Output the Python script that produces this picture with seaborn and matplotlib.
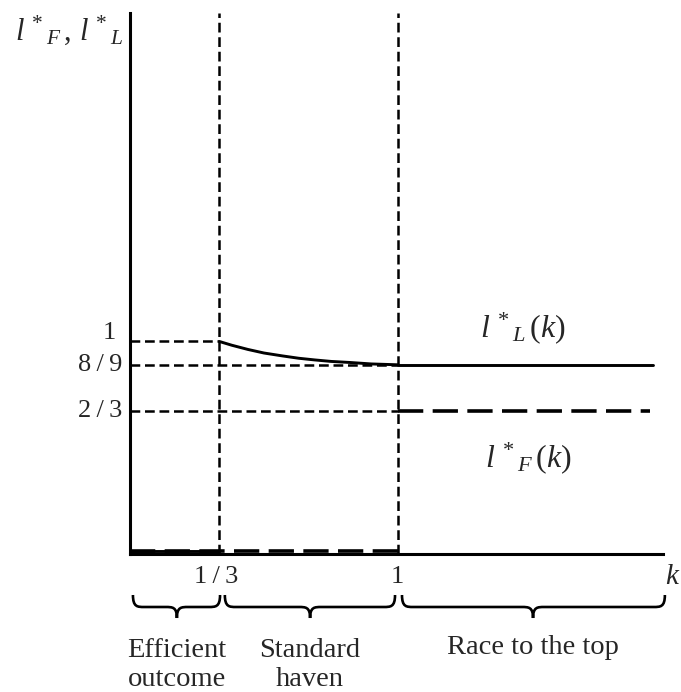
import numpy as np
import pandas as pd
import matplotlib
matplotlib.use("Agg")
import matplotlib.pyplot as plt
import matplotlib.transforms as mtransforms
from matplotlib.path import Path
from matplotlib.patches import PathPatch
import seaborn as sns

# ---- data -------------------------------------------------------------
# regime thresholds on k
k_low = 1 / 3
k_high = 1.0
k_end_L = 1.95
k_end_F = 1.94

# leader's level l*_L(k) in the standard-haven range (1/3 <= k <= 1)
k_haven = [1 / 3, 0.38, 0.44, 0.50, 0.57, 0.63, 0.69, 0.75, 0.82, 0.90, 1.0]
lL_haven = [1.0, 0.982, 0.962, 0.945, 0.931, 0.920, 0.912, 0.905, 0.900, 0.893, 8 / 9]

# levels in the race-to-the-top range (k > 1)
lL_race = 8 / 9
lF_race = 2 / 3

y_ticks = [1, 8 / 9, 2 / 3]
y_tick_labels = ["1", "8\u2009/\u20099", "2\u2009/\u20093"]
x_ticks = [1 / 3, 1]
x_tick_labels = ["1\u2009/\u20093", "1"]

regions = ["Efficient\noutcome", "Standard\nhaven", "Race to the top"]
region_spans = [(0.011, 0.336), (0.354, 0.989), (1.015, 1.996)]
region_tips = [0.175, 0.672, 1.504]

# ---- style ------------------------------------------------------------
sns.set_style("white")
plt.rcParams["font.family"] = ["Liberation Serif", "DejaVu Serif"]
plt.rcParams["mathtext.fontset"] = "custom"
plt.rcParams["mathtext.rm"] = "Liberation Serif"
plt.rcParams["mathtext.it"] = "Liberation Serif:italic"

FS = 19      # tick labels
RFS = 20.5   # regime labels
MFS = 23     # math labels

fig = plt.figure(figsize=(6.81, 6.92), dpi=100)
ax = fig.add_axes([130 / 681, 1 - 554 / 692, 533 / 681, 541 / 692])

ymin, ymax = -0.012, 2.564
ax.set_xlim(0, 1.989)
ax.set_ylim(ymin, ymax)

ref_kw = dict(color="black", lw=1.8, ls=(0, (3.9, 1.9)), zorder=2)
F_kw = dict(color="black", lw=2.6, ls=(0, (7.0, 2.6)), zorder=3)
L_kw = dict(color="black", lw=2.1, zorder=3)

# reference guides
sns.lineplot(x=[0, k_low], y=[1, 1], ax=ax, **ref_kw)
sns.lineplot(x=[0, k_high], y=[8 / 9, 8 / 9], ax=ax, **ref_kw)
sns.lineplot(x=[0, k_high], y=[2 / 3, 2 / 3], ax=ax, **ref_kw)
for kv in (k_low, k_high):
    ax.plot([kv, kv], [ymin, ymax], **ref_kw)

# l*_L(k)
sns.lineplot(x=[0, k_low], y=[0, 0], ax=ax, **L_kw)
sns.lineplot(x=k_haven, y=lL_haven, ax=ax, sort=False, **L_kw)
sns.lineplot(x=[k_high, k_end_L], y=[lL_race, lL_race], ax=ax, **L_kw)

# l*_F(k)
sns.lineplot(x=[0, k_high], y=[0, 0], ax=ax, **F_kw)
sns.lineplot(x=[k_high, k_end_F], y=[lF_race, lF_race], ax=ax, **F_kw)

# axes frame
for side in ("top", "right"):
    ax.spines[side].set_visible(False)
for side in ("left", "bottom"):
    ax.spines[side].set_linewidth(2.2)
    ax.spines[side].set_color("black")
ax.set_xticks([])
ax.set_yticks([])

# y tick labels
pt = 0.72
ax.annotate(y_tick_labels[0], xy=(0, y_ticks[0]), xytext=(-21 * pt, 8 * pt),
            textcoords="offset points", ha="center", va="center", fontsize=FS)
for v, lab in zip(y_ticks[1:], y_tick_labels[1:]):
    ax.annotate(lab, xy=(0, v), xytext=(-7.5 * pt, 0), textcoords="offset points",
                ha="right", va="center", fontsize=FS)

# x tick labels
mixed = ("data", "axes fraction")
ax.annotate(x_tick_labels[0], xy=(x_ticks[0], 0), xycoords=mixed,
            xytext=(-3 * pt, -23 * pt), textcoords="offset points",
            ha="center", va="center", fontsize=FS)
ax.annotate(x_tick_labels[1], xy=(x_ticks[1], 0), xycoords=mixed,
            xytext=(-1 * pt, -23 * pt), textcoords="offset points",
            ha="center", va="center", fontsize=FS)
ax.annotate(r"$k$", xy=(1, 0), xycoords="axes fraction",
            xytext=(10 * pt, -23 * pt), textcoords="offset points",
            ha="center", va="center", fontsize=21)

# axis title and curve labels
fig.text(15 / 681, 1 - 40 / 692, r"$l^{\,*}{}_{F}\,,\,l^{\,*}{}_{L}$",
         fontsize=22, va="baseline", ha="left")
ax.text(1.466, 1.021, r"$l^{\,*}{}_{L}\,(k)$", fontsize=MFS, ha="center", va="baseline")
ax.text(1.485, 0.402, r"$l^{\,*}{}_{F}\,(k)$", fontsize=MFS, ha="center", va="baseline")

# regime braces below the k axis
trans = mtransforms.blended_transform_factory(ax.transData, ax.transAxes)
H = 541.0
y_top, y_mid, y_tip = -41 / H, -53 / H, -64 / H


def brace(x0, x1, xm, w=0.042):
    verts = [
        (x0, y_top), (x0, y_mid), (x0 + w * 0.4, y_mid), (x0 + w, y_mid),
        (xm - w, y_mid),
        (xm - w * 0.4, y_mid), (xm, y_mid), (xm, y_tip),
        (xm, y_mid), (xm + w * 0.4, y_mid), (xm + w, y_mid),
        (x1 - w, y_mid),
        (x1 - w * 0.4, y_mid), (x1, y_mid), (x1, y_top),
    ]
    codes = [Path.MOVETO, Path.CURVE4, Path.CURVE4, Path.CURVE4,
             Path.LINETO,
             Path.CURVE4, Path.CURVE4, Path.CURVE4,
             Path.CURVE4, Path.CURVE4, Path.CURVE4,
             Path.LINETO,
             Path.CURVE4, Path.CURVE4, Path.CURVE4]
    ax.add_patch(PathPatch(Path(verts, codes), fill=False, lw=1.9, color="black",
                           transform=trans, clip_on=False))


for (a, b), m in zip(region_spans, region_tips):
    brace(a, b, m)

label_y = [-111 / H, -111 / H, -94 / H]
for lab, m, yy in zip(regions, region_tips, label_y):
    ax.text(m, yy, lab, transform=trans, ha="center", va="center",
            fontsize=RFS, linespacing=1.25)

fig.savefig("out.png", dpi=100)
